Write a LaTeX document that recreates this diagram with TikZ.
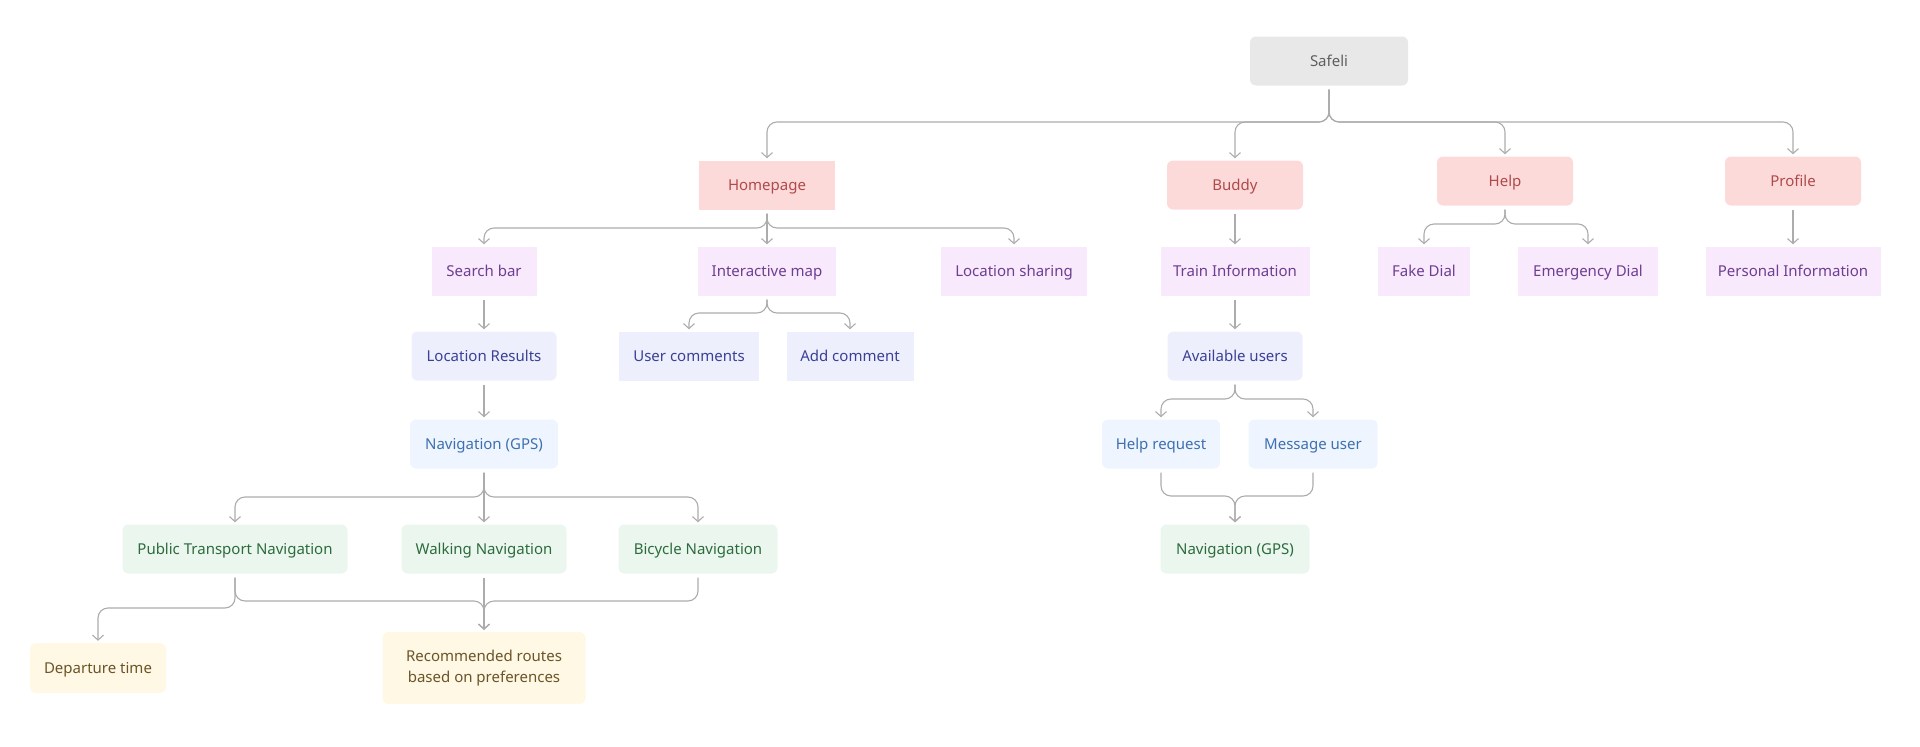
\documentclass[tikz,border=0pt]{standalone}
\usepackage{fontspec}
\setmainfont{Noto Sans}
\usepackage{tikz}
\usetikzlibrary{arrows.meta}
\definecolor{lineagris}{RGB}{172,172,172}
\definecolor{grisfondo}{RGB}{232,232,232}
\definecolor{gristexto}{RGB}{95,95,95}
\definecolor{rosafondo}{RGB}{253,218,218}
\definecolor{rosatexto}{RGB}{176,74,74}
\definecolor{lilafondo}{RGB}{248,233,253}
\definecolor{lilatexto}{RGB}{109,62,145}
\definecolor{indigofondo}{RGB}{238,239,253}
\definecolor{indigotexto}{RGB}{59,64,150}
\definecolor{azulfondo}{RGB}{238,245,255}
\definecolor{azultexto}{RGB}{62,112,176}
\definecolor{verdefondo}{RGB}{235,247,238}
\definecolor{verdetexto}{RGB}{45,107,62}
\definecolor{amarillofondo}{RGB}{254,248,229}
\definecolor{amarillotexto}{RGB}{107,85,38}
\tikzset{>={Straight Barb[length=5pt,width=11pt]}}
\tikzset{
  caja/.style={minimum height=49pt, inner sep=0pt, align=center, rounded corners=6pt,
    text height=10.5pt, text depth=0pt, font=\fontsize{15}{21.5}\selectfont},
  recta/.style={sharp corners},
  raiz/.style={caja, fill=grisfondo, text=gristexto},
  nivelA/.style={caja, fill=rosafondo, text=rosatexto},
  nivelB/.style={caja, fill=lilafondo, text=lilatexto},
  nivelC/.style={caja, fill=indigofondo, text=indigotexto},
  nivelD/.style={caja, fill=azulfondo, text=azultexto},
  nivelE/.style={caja, fill=verdefondo, text=verdetexto},
  nivelF/.style={caja, fill=amarillofondo, text=amarillotexto},
  conector/.style={->, draw=lineagris, line width=1.1pt, rounded corners=10pt,
    shorten >=2pt, shorten <=4pt}
}
\begin{document}
\begin{tikzpicture}[x=1pt, y=-1pt]
	\useasboundingbox (0,0) rectangle (1920,747);

	% cajas
	\node[raiz, minimum width=158pt] (safeli) at (1329,61) {Safeli};

	\node[nivelA, recta, minimum width=136pt] (home) at (767,185) {Homepage};
	\node[nivelA, minimum width=136pt] (buddy) at (1235,185) {Buddy};
	\node[nivelA, minimum width=136pt] (help) at (1505,181) {Help};
	\node[nivelA, minimum width=136pt] (profile) at (1793,181) {Profile};

	\node[nivelB, recta, minimum width=105pt] (search) at (484,271) {Search bar};
	\node[nivelB, recta, minimum width=138pt] (intmap) at (767,271) {Interactive map};
	\node[nivelB, recta, minimum width=146pt] (locshare) at (1014,271) {Location sharing};
	\node[nivelB, recta, minimum width=149pt] (train) at (1235,271) {Train Information};
	\node[nivelB, recta, minimum width=92pt] (fakedial) at (1424,271) {Fake Dial};
	\node[nivelB, recta, minimum width=140pt] (emerdial) at (1588,271) {Emergency Dial};
	\node[nivelB, recta, minimum width=175pt] (personal) at (1793,271) {Personal Information};

	\node[nivelC, minimum width=145pt] (locres) at (484,356) {Location Results};
	\node[nivelC, recta, minimum width=140pt] (usercom) at (689,356) {User comments};
	\node[nivelC, recta, minimum width=127pt] (addcom) at (850,356) {Add comment};
	\node[nivelC, minimum width=135pt] (avail) at (1235,356) {Available users};

	\node[nivelD, minimum width=148pt] (navgps) at (484,444) {Navigation (GPS)};
	\node[nivelD, minimum width=118pt] (helpreq) at (1161,444) {Help request};
	\node[nivelD, minimum width=129pt] (msguser) at (1313,444) {Message user};

	\node[nivelE, minimum width=225pt] (ptnav) at (235,549) {Public Transport Navigation};
	\node[nivelE, minimum width=165pt] (walknav) at (484,549) {Walking Navigation};
	\node[nivelE, minimum width=159pt] (bikenav) at (698,549) {Bicycle Navigation};
	\node[nivelE, minimum width=149pt] (buddynav) at (1235,549) {Navigation (GPS)};

	\node[nivelF, minimum width=136pt, minimum height=50pt] (deptime) at (98,668) {Departure time};
	\node[nivelF, minimum width=203pt, minimum height=72pt, text height=, text depth=] (recroutes) at (484,668) {Recommended routes\\based on preferences};

	% conectores
	\draw[conector] (safeli.south) -- (safeli.south |- 0,122) -| (home.north);
	\draw[conector] (safeli.south) -- (safeli.south |- 0,122) -| (buddy.north);
	\draw[conector] (safeli.south) -- (safeli.south |- 0,122) -| (help.north);
	\draw[conector] (safeli.south) -- (safeli.south |- 0,122) -| (profile.north);

	\draw[conector] (home.south) -- (home.south |- 0,228) -| (search.north);
	\draw[conector] (home.south) -- (intmap.north);
	\draw[conector] (home.south) -- (home.south |- 0,228) -| (locshare.north);

	\draw[conector] (buddy.south) -- (train.north);
	\draw[conector] (help.south) -- (help.south |- 0,224) -| (fakedial.north);
	\draw[conector] (help.south) -- (help.south |- 0,224) -| (emerdial.north);
	\draw[conector] (profile.south) -- (personal.north);

	\draw[conector] (search.south) -- (locres.north);
	\draw[conector] (intmap.south) -- (intmap.south |- 0,313) -| (usercom.north);
	\draw[conector] (intmap.south) -- (intmap.south |- 0,313) -| (addcom.north);
	\draw[conector] (train.south) -- (avail.north);

	\draw[conector] (locres.south) -- (navgps.north);
	\draw[conector] (avail.south) -- (avail.south |- 0,399) -| (helpreq.north);
	\draw[conector] (avail.south) -- (avail.south |- 0,399) -| (msguser.north);

	\draw[conector] (navgps.south) -- (navgps.south |- 0,497) -| (ptnav.north);
	\draw[conector] (navgps.south) -- (walknav.north);
	\draw[conector] (navgps.south) -- (navgps.south |- 0,497) -| (bikenav.north);

	\draw[conector] (helpreq.south) |- (buddynav.north |- 0,496) -- (buddynav.north);
	\draw[conector] (msguser.south) |- (buddynav.north |- 0,496) -- (buddynav.north);

	\draw[conector] (ptnav.south) |- (recroutes.north |- 0,601) -- (recroutes.north);
	\draw[conector] (walknav.south) -- (recroutes.north);
	\draw[conector] (bikenav.south) |- (recroutes.north |- 0,601) -- (recroutes.north);
	\draw[conector] (ptnav.south) |- (deptime.north |- 0,608) -- (deptime.north);

\end{tikzpicture}
\end{document}
